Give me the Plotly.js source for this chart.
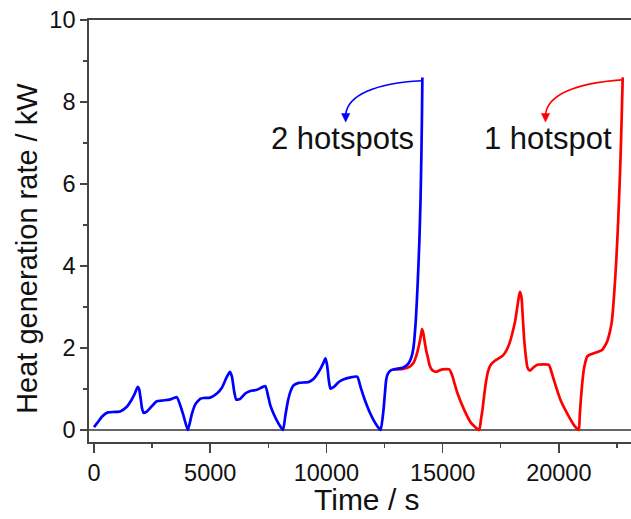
<!DOCTYPE html>
<html>
<head>
<meta charset="utf-8">
<script src="https://cdn.plot.ly/plotly-3.0.1.min.js"></script>
<style>
html,body{margin:0;padding:0;overflow:hidden;background:#fff;}
#chart{width:660px;height:519px;}
</style>
</head>
<body>
<div id="chart"></div>
<script>
// Blue series: 2 hotspots
const blueT = [0,150,350,600,900,1150,1400,1600,1750,1882,1940,2000,2060,2127,2270,2486,2702,2950,3250,3564,3707,3851,4038,
  4210,4354,4570,4713,5001,5288,5504,5719,5849,5935,6035,6122,6294,6509,6725,7013,7372,7487,7588,7732,7947,8133,
  8234,8334,8449,8593,8809,9240,9455,9671,9858,9958,10030,10102,10174,10318,10533,10749,11324,11468,11611,11898,12113,12329,
  12457,12571,12643,12786,13000,13286,13500,13643,13743,13850,13930,14000,14050,14090,14115,14130];
const blueV = [0.07,0.18,0.33,0.43,0.44,0.46,0.56,0.72,0.88,1.05,1.00,0.80,0.55,0.42,0.45,0.58,0.70,0.72,0.74,0.80,0.61,0.35,0.0,
  0.39,0.62,0.76,0.78,0.79,0.89,1.03,1.30,1.42,1.30,0.93,0.74,0.76,0.89,0.95,0.98,1.07,0.84,0.60,0.39,0.15,0.0,
  0.35,0.68,0.93,1.09,1.15,1.17,1.25,1.42,1.62,1.75,1.58,1.22,1.01,1.05,1.17,1.24,1.30,1.05,0.80,0.39,0.16,0.0,
  0.49,1.22,1.37,1.46,1.49,1.52,1.60,1.75,2.0,2.7,3.6,4.6,5.6,6.8,7.8,8.6];
// Red series: 1 hotspot
const redT = [12850,13286,13572,13750,13857,14000,14070,14115,14170,14215,14300,14358,14430,14500,14600,14715,14850,15000,15286,15380,15429,15644,15930,16215,16573,
  16650,16715,16790,16858,16950,17072,17250,17430,17600,17716,17870,18001,18120,18216,18290,18330,18370,18401,18450,18501,18570,18644,18720,18787,18900,19073,19573,19650,19787,20073,20430,20650,20860,
  20900,20950,21010,21074,21140,21217,21350,21503,21700,21860,21980,22074,22200,22289,22380,22460,22540,22610,22660,22710,22750];
const redV = [1.47,1.49,1.54,1.64,1.79,2.11,2.32,2.46,2.36,2.20,1.92,1.79,1.60,1.50,1.44,1.42,1.45,1.48,1.48,1.38,1.30,0.89,0.49,0.18,0.0,
  0.25,0.49,0.85,1.14,1.42,1.59,1.69,1.75,1.82,1.91,2.10,2.36,2.65,3.01,3.28,3.37,3.30,3.21,2.75,2.28,1.85,1.54,1.46,1.46,1.52,1.59,1.59,1.48,1.22,0.73,0.33,0.12,0.0,
  0.35,0.75,1.15,1.46,1.65,1.79,1.84,1.87,1.91,1.95,2.05,2.15,2.40,2.68,3.3,4.0,4.9,5.9,6.7,7.7,8.6];

const xTicks = [0,5000,10000,15000,20000];
const yTicks = [0,2,4,6,8,10];
const labels = {blue:'2 hotspots', red:'1 hotspot', x:'Time / s', y:'Heat generation rate / kW'};

const FONT = 'Liberation Sans, Arial, Helvetica, sans-serif';
const AX = '#444';

const traces = [
  {x: redT, y: redV, mode:'lines', line:{color:'#ff0000', width:2.7, shape:'spline', smoothing:0.5}, hoverinfo:'skip'},
  {x: blueT, y: blueV, mode:'lines', line:{color:'#0000ff', width:2.7, shape:'spline', smoothing:0.5}, hoverinfo:'skip'}
];

function arc(x0,y0,c1x,c1y,c2x,c2y,x1,y1,color){
  return {type:'path', xref:'x', yref:'y', path:`M ${x0},${y0} C ${c1x},${c1y} ${c2x},${c2y} ${x1},${y1}`,
    line:{color:color, width:1.6}, fillcolor:'rgba(0,0,0,0)'};
}
function head(xc,yb,yt,hw,color){
  return {type:'path', xref:'x', yref:'y', path:`M ${xc-hw},${yb} L ${xc+hw},${yb} L ${xc},${yt} Z`,
    line:{color:color, width:0.5}, fillcolor:color};
}

const layout = {
  width:660, height:519,
  margin:{l:89, r:17, t:20, b:77, pad:0},
  paper_bgcolor:'#fff', plot_bgcolor:'#fff',
  showlegend:false,
  font:{family:FONT, color:'#111'},
  xaxis:{
    range:[-215, 23623], tickmode:'array', tickvals:xTicks, ticktext:xTicks.map(String),
    ticks:'outside', ticklen:9, tickwidth:1.5, tickcolor:AX,
    minor:{dtick:2500, tick0:0, ticks:'outside', ticklen:4, tickwidth:1.5, tickcolor:AX, showgrid:false},
    showline:true, linecolor:AX, linewidth:1.8, mirror:true,
    showgrid:false, zeroline:false,
    tickfont:{size:23.5, family:FONT, color:'#111'}
  },
  yaxis:{
    range:[-0.293, 10], tickmode:'array', tickvals:yTicks, ticktext:yTicks.map(String),
    ticks:'outside', ticklen:7, tickwidth:1.5, tickcolor:AX,
    minor:{dtick:1, tick0:0, ticks:'outside', ticklen:4, tickwidth:1.5, tickcolor:AX, showgrid:false},
    showline:true, linecolor:AX, linewidth:1.8, mirror:true,
    showgrid:false, zeroline:true, zerolinecolor:'#666', zerolinewidth:1.4,
    tickfont:{size:23.5, family:FONT, color:'#111'}
  },
  shapes:[
    arc(14101,8.52, 12091,8.46, 10929,8.17, 10830,7.70, '#0000ff'),
    head(10830,7.72,7.51,180,'#0000ff'),
    arc(22707,8.54, 20697,8.46, 19535,8.17, 19428,7.70, '#ff0000'),
    head(19428,7.72,7.51,180,'#ff0000')
  ],
  annotations:[
    {x:10714, y:7.10, xref:'x', yref:'y', text:labels.blue, showarrow:false, font:{size:31, family:FONT, color:'#111'}, xanchor:'center', yanchor:'middle'},
    {x:19514, y:7.10, xref:'x', yref:'y', text:labels.red, showarrow:false, font:{size:31, family:FONT, color:'#111'}, xanchor:'center', yanchor:'middle'},
    {x:0.502, y:-0.137, xref:'paper', yref:'paper', text:labels.x, showarrow:false, font:{size:30, family:FONT, color:'#111'}, xanchor:'center', yanchor:'middle'},
    {x:-0.112, y:0.46, xref:'paper', yref:'paper', text:labels.y, showarrow:false, textangle:-90, font:{size:29, family:FONT, color:'#111'}, xanchor:'center', yanchor:'middle'}
  ]
};

Plotly.newPlot('chart', traces, layout, {staticPlot:true, displayModeBar:false});
</script>
</body>
</html>
